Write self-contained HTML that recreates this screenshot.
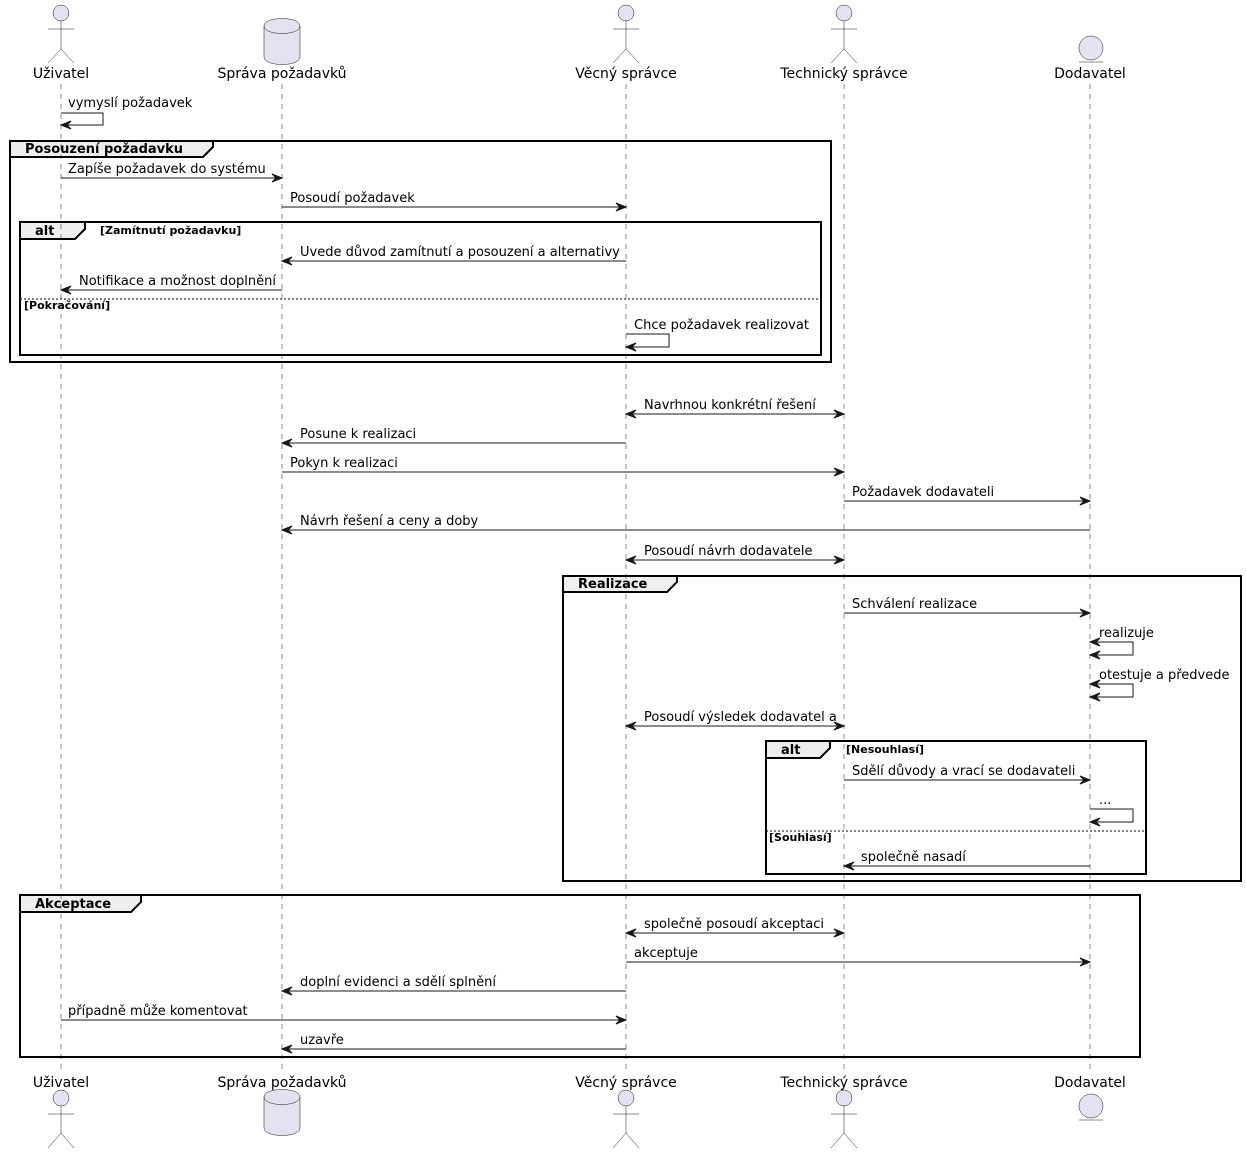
<!DOCTYPE html>
<html><head><meta charset="utf-8"><style>
html,body{margin:0;padding:0;background:#fff;}
svg{display:block;}
text{font-family:"DejaVu Sans","Liberation Sans",sans-serif;fill:#000;}
.m{font-size:13px;}
.p{font-size:14px;}
.g{font-size:13px;font-weight:bold;}
.c{font-size:11px;font-weight:bold;}
.ll{stroke:#181818;stroke-width:0.5;stroke-dasharray:5,5;}
.ln{stroke:#181818;stroke-width:1;fill:none;}
.ah{fill:#181818;stroke:#181818;stroke-width:1;}
.fr{fill:none;stroke:#000;stroke-width:2;}
.tab{fill:#EEEEEE;stroke:#000;stroke-width:2;}
.sep{stroke:#000;stroke-width:1;stroke-dasharray:2,2;}
.act{fill:#E2E2F0;stroke:#181818;stroke-width:0.5;}
.actl{stroke:#181818;stroke-width:0.5;fill:none;}
</style></head><body>
<svg width="1246" height="1154" viewBox="0 0 1246 1154" xmlns="http://www.w3.org/2000/svg">
<rect width="1246" height="1154" fill="#fff"/>

<!-- groups (frames) -->
<rect class="fr" x="10" y="141" width="821" height="221"/>
<polygon class="tab" points="10,141 213,141 213,147 203,157 10,157"/>
<text class="g" x="25" y="153">Posouzení požadavku</text>

<rect class="fr" x="20" y="222" width="801" height="133"/>
<polygon class="tab" points="20,222 85,222 85,229 75,239 20,239"/>
<text class="g" x="35" y="235">alt</text>
<text class="c" x="100" y="234">[Zamítnutí požadavku]</text>
<line class="sep" x1="20" y1="299" x2="821" y2="299"/>
<text class="c" x="24" y="309">[Pokračování]</text>

<rect class="fr" x="563" y="576" width="678" height="305"/>
<polygon class="tab" points="563,576 677,576 677,582 667,592 563,592"/>
<text class="g" x="578" y="588">Realizace</text>

<rect class="fr" x="766" y="741" width="380" height="133"/>
<polygon class="tab" points="766,741 830,741 830,748 820,758 766,758"/>
<text class="g" x="781" y="754">alt</text>
<text class="c" x="846" y="753">[Nesouhlasí]</text>
<line class="sep" x1="766" y1="831" x2="1146" y2="831"/>
<text class="c" x="769" y="841">[Souhlasí]</text>

<rect class="fr" x="20" y="895" width="1120" height="162"/>
<polygon class="tab" points="20,895 141,895 141,902 131,912 20,912"/>
<text class="g" x="35" y="908">Akceptace</text>

<!-- lifelines -->
<line class="ll" x1="61" y1="84" x2="61" y2="1072"/>
<line class="ll" x1="282" y1="84" x2="282" y2="1072"/>
<line class="ll" x1="626" y1="84" x2="626" y2="1072"/>
<line class="ll" x1="844" y1="84" x2="844" y2="1072"/>
<line class="ll" x1="1090" y1="84" x2="1090" y2="1072"/>

<!-- participants top -->
<circle class="act" cx="61" cy="13" r="8"/>
<line class="actl" x1="61" y1="21" x2="61" y2="49"/>
<line class="actl" x1="48" y1="29" x2="74" y2="29"/>
<polyline class="actl" points="48,63 61,49 74,63"/>
<text class="p" x="61" y="78" text-anchor="middle">Uživatel</text>

<path class="act" d="M264,26 C264,16 300,16 300,26 L300,57 C300,67 264,67 264,57 Z"/>
<path class="actl" d="M264,26 C264,36 300,36 300,26"/>
<text class="p" x="282" y="78" text-anchor="middle">Správa požadavků</text>

<circle class="act" cx="626" cy="13" r="8"/>
<line class="actl" x1="626" y1="21" x2="626" y2="49"/>
<line class="actl" x1="613" y1="29" x2="639" y2="29"/>
<polyline class="actl" points="613,63 626,49 639,63"/>
<text class="p" x="626" y="78" text-anchor="middle">Věcný správce</text>

<circle class="act" cx="844" cy="13" r="8"/>
<line class="actl" x1="844" y1="21" x2="844" y2="49"/>
<line class="actl" x1="831" y1="29" x2="857" y2="29"/>
<polyline class="actl" points="831,63 844,49 857,63"/>
<text class="p" x="844" y="78" text-anchor="middle">Technický správce</text>

<circle class="act" cx="1091" cy="48" r="12"/>
<line class="actl" x1="1079" y1="62" x2="1103" y2="62"/>
<text class="p" x="1090" y="78" text-anchor="middle">Dodavatel</text>

<!-- participants bottom -->
<text class="p" x="61" y="1087" text-anchor="middle">Uživatel</text>
<circle class="act" cx="61" cy="1098" r="8"/>
<line class="actl" x1="61" y1="1106" x2="61" y2="1133"/>
<line class="actl" x1="48" y1="1114" x2="74" y2="1114"/>
<polyline class="actl" points="48,1148 61,1133 74,1148"/>

<text class="p" x="282" y="1087" text-anchor="middle">Správa požadavků</text>
<path class="act" d="M264,1097 C264,1087 300,1087 300,1097 L300,1128 C300,1138 264,1138 264,1128 Z"/>
<path class="actl" d="M264,1097 C264,1107 300,1107 300,1097"/>

<text class="p" x="626" y="1087" text-anchor="middle">Věcný správce</text>
<circle class="act" cx="626" cy="1098" r="8"/>
<line class="actl" x1="626" y1="1106" x2="626" y2="1133"/>
<line class="actl" x1="613" y1="1114" x2="639" y2="1114"/>
<polyline class="actl" points="613,1148 626,1133 639,1148"/>

<text class="p" x="844" y="1087" text-anchor="middle">Technický správce</text>
<circle class="act" cx="844" cy="1098" r="8"/>
<line class="actl" x1="844" y1="1106" x2="844" y2="1133"/>
<line class="actl" x1="831" y1="1114" x2="857" y2="1114"/>
<polyline class="actl" points="831,1148 844,1133 857,1148"/>

<text class="p" x="1090" y="1087" text-anchor="middle">Dodavatel</text>
<circle class="act" cx="1091" cy="1106" r="12"/>
<line class="actl" x1="1079" y1="1120" x2="1103" y2="1120"/>

<!-- messages -->
<polyline class="ln" points="61,113 103,113 103,125 62,125"/>
<polygon class="ah" points="61,125 71,121 67,125 71,129"/>
<text class="m" x="68" y="107">vymyslí požadavek</text>

<line class="ln" x1="61" y1="178" x2="281" y2="178"/>
<polygon class="ah" points="282,178 272,174 276,178 272,182"/>
<text class="m" x="68" y="173">Zapíše požadavek do systému</text>

<line class="ln" x1="282" y1="207" x2="625" y2="207"/>
<polygon class="ah" points="626,207 616,203 620,207 616,211"/>
<text class="m" x="290" y="202">Posoudí požadavek</text>

<line class="ln" x1="283" y1="261" x2="626" y2="261"/>
<polygon class="ah" points="282,261 292,257 288,261 292,265"/>
<text class="m" x="300" y="256">Uvede důvod zamítnutí a posouzení a alternativy</text>

<line class="ln" x1="62" y1="290" x2="282" y2="290"/>
<polygon class="ah" points="61,290 71,286 67,290 71,294"/>
<text class="m" x="79" y="285">Notifikace a možnost doplnění</text>

<polyline class="ln" points="626,334 669,334 669,347 627,347"/>
<polygon class="ah" points="626,347 636,343 632,347 636,351"/>
<text class="m" x="634" y="329">Chce požadavek realizovat</text>

<line class="ln" x1="627" y1="414" x2="843" y2="414"/>
<polygon class="ah" points="626,414 636,410 632,414 636,418"/>
<polygon class="ah" points="844,414 834,410 838,414 834,418"/>
<text class="m" x="644" y="409">Navrhnou konkrétní řešení</text>

<line class="ln" x1="283" y1="443" x2="626" y2="443"/>
<polygon class="ah" points="282,443 292,439 288,443 292,447"/>
<text class="m" x="300" y="438">Posune k realizaci</text>

<line class="ln" x1="282" y1="472" x2="843" y2="472"/>
<polygon class="ah" points="844,472 834,468 838,472 834,476"/>
<text class="m" x="290" y="467">Pokyn k realizaci</text>

<line class="ln" x1="844" y1="501" x2="1089" y2="501"/>
<polygon class="ah" points="1090,501 1080,497 1084,501 1080,505"/>
<text class="m" x="852" y="496">Požadavek dodavateli</text>

<line class="ln" x1="283" y1="530" x2="1090" y2="530"/>
<polygon class="ah" points="282,530 292,526 288,530 292,534"/>
<text class="m" x="300" y="525">Návrh řešení a ceny a doby</text>

<line class="ln" x1="627" y1="560" x2="843" y2="560"/>
<polygon class="ah" points="626,560 636,556 632,560 636,564"/>
<polygon class="ah" points="844,560 834,556 838,560 834,564"/>
<text class="m" x="644" y="555">Posoudí návrh dodavatele</text>

<line class="ln" x1="844" y1="613" x2="1089" y2="613"/>
<polygon class="ah" points="1090,613 1080,609 1084,613 1080,617"/>
<text class="m" x="852" y="608">Schválení realizace</text>

<polyline class="ln" points="1091,642 1133,642 1133,655 1091,655"/>
<polygon class="ah" points="1090,642 1100,638 1096,642 1100,646"/>
<polygon class="ah" points="1090,655 1100,651 1096,655 1100,659"/>
<text class="m" x="1099" y="637">realizuje</text>

<polyline class="ln" points="1091,684 1133,684 1133,697 1091,697"/>
<polygon class="ah" points="1090,684 1100,680 1096,684 1100,688"/>
<polygon class="ah" points="1090,697 1100,693 1096,697 1100,701"/>
<text class="m" x="1099" y="679">otestuje a předvede</text>

<line class="ln" x1="627" y1="726" x2="843" y2="726"/>
<polygon class="ah" points="626,726 636,722 632,726 636,730"/>
<polygon class="ah" points="844,726 834,722 838,726 834,730"/>
<text class="m" x="644" y="721">Posoudí výsledek dodavatel a</text>

<line class="ln" x1="844" y1="780" x2="1089" y2="780"/>
<polygon class="ah" points="1090,780 1080,776 1084,780 1080,784"/>
<text class="m" x="852" y="775">Sdělí důvody a vrací se dodavateli</text>

<polyline class="ln" points="1090,809 1133,809 1133,822 1091,822"/>
<polygon class="ah" points="1090,822 1100,818 1096,822 1100,826"/>
<text class="m" x="1099" y="804">...</text>

<line class="ln" x1="845" y1="866" x2="1090" y2="866"/>
<polygon class="ah" points="844,866 854,862 850,866 854,870"/>
<text class="m" x="861" y="861">společně nasadí</text>

<line class="ln" x1="627" y1="933" x2="843" y2="933"/>
<polygon class="ah" points="626,933 636,929 632,933 636,937"/>
<polygon class="ah" points="844,933 834,929 838,933 834,937"/>
<text class="m" x="644" y="928">společně posoudí akceptaci</text>

<line class="ln" x1="626" y1="962" x2="1089" y2="962"/>
<polygon class="ah" points="1090,962 1080,958 1084,962 1080,966"/>
<text class="m" x="634" y="957">akceptuje</text>

<line class="ln" x1="283" y1="991" x2="626" y2="991"/>
<polygon class="ah" points="282,991 292,987 288,991 292,995"/>
<text class="m" x="300" y="986">doplní evidenci a sdělí splnění</text>

<line class="ln" x1="61" y1="1020" x2="625" y2="1020"/>
<polygon class="ah" points="626,1020 616,1016 620,1020 616,1024"/>
<text class="m" x="68" y="1015">případně může komentovat</text>

<line class="ln" x1="283" y1="1049" x2="626" y2="1049"/>
<polygon class="ah" points="282,1049 292,1045 288,1049 292,1053"/>
<text class="m" x="300" y="1044">uzavře</text>
</svg>
</body></html>
